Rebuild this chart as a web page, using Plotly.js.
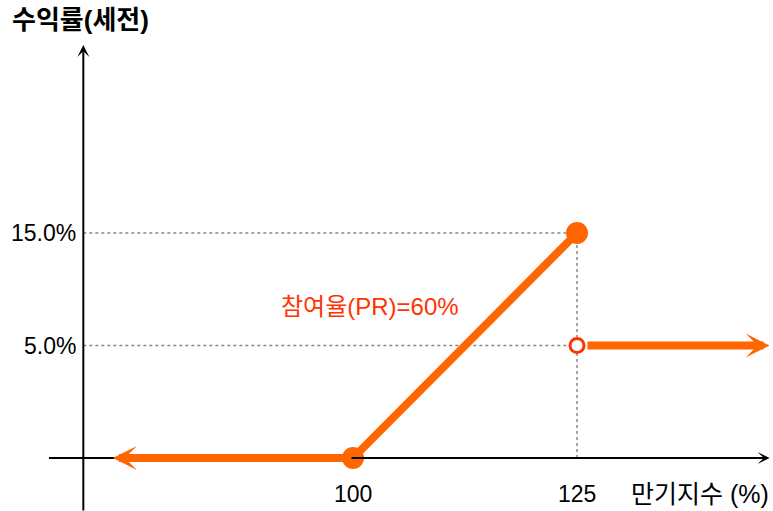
<!DOCTYPE html>
<html>
<head>
<meta charset="utf-8">
<script src="https://cdn.plot.ly/plotly-3.0.1.min.js"></script>
<style>html,body{margin:0;padding:0;background:#fff;}#chart{width:773px;height:511px;}</style>
</head>
<body>
<div id="chart"></div>
<script>
// ---- data ----
const levels = ['0%', '5.0%', '15.0%'];            // schematic return levels (y categories)
const yTickLabels = ['15.0%', '5.0%'];
const xTickVals = [100, 125];
const xTickLabels = ['100', '125'];
const rampX = [100, 125];                           // participation segment
const rampY = ['0%', '15.0%'];
const filledX = [100, 125];
const filledY = ['0%', '15.0%'];
const rebateX = [125];
const rebateY = ['5.0%'];
const leftArrowX = [100, 73.2];                     // flat payoff below 100
const rightArrowX = [126.0, 146.5];                 // rebate payoff above 125
const yTitle = '수익률(세전)';
const xTitle = '만기지수 (%)';
const prLabel = '참여율(PR)=60%';

const ORANGE = '#FF6600';
const RED = '#FF3300';
const FONT = 'Liberation Sans, Arial, Noto Sans CJK KR, sans-serif';

const traces = [
  {x: rampX, y: rampY, mode: 'lines', line: {color: ORANGE, width: 8}, hoverinfo: 'skip'},
  {x: filledX, y: filledY, mode: 'markers', marker: {color: ORANGE, size: 22}, hoverinfo: 'skip'},
  {x: rebateX, y: rebateY, mode: 'markers', marker: {color: '#fff', size: 14, line: {color: RED, width: 3}}, hoverinfo: 'skip'}
];

const dotted = {color: '#888', width: 1.5, dash: 'dot'};
const shapes = [
  {type: 'line', xref: 'x', yref: 'y', x0: 69.9, x1: 125, y0: '15.0%', y1: '15.0%', line: dotted, layer: 'below'},
  {type: 'line', xref: 'x', yref: 'y', x0: 69.9, x1: 125, y0: '5.0%', y1: '5.0%', line: dotted, layer: 'below'},
  {type: 'line', xref: 'x', yref: 'y', x0: 125, x1: 125, y0: '0%', y1: '15.0%', line: dotted, layer: 'below'}
];

function arrow(x, y, ax, ay, color, width, size) {
  return {x: x, y: y, ax: ax, ay: ay, xref: 'x', yref: 'y', axref: 'x', ayref: 'y',
    text: '', showarrow: true, arrowhead: 3, arrowsize: size, arrowwidth: width,
    arrowcolor: color, standoff: 0, startstandoff: 0};
}

const annotations = [
  // axes
  arrow(146.5, 0, 65.9, 0, '#000', 2, 1),
  arrow(69.9, 3.67, 69.9, -0.48, '#000', 2, 1),
  // payoff arrows
  arrow(leftArrowX[1], '0%', leftArrowX[0], '0%', ORANGE, 8, 0.5),
  arrow(rightArrowX[1], '5.0%', rightArrowX[0], '5.0%', ORANGE, 8, 0.5),
  // PR label
  {x: 101.9, y: 1.35, xref: 'x', yref: 'y', text: prLabel, showarrow: false,
    font: {family: FONT, size: 24, color: RED}},
  // x title
  {x: 146.6, y: '0%', yshift: -36, xref: 'x', yref: 'y', xanchor: 'right', text: xTitle, showarrow: false,
    font: {family: FONT, size: 25, color: '#000'}}
];
yTickLabels.forEach(t => annotations.push({x: 69.3, y: t, xref: 'x', yref: 'y', xanchor: 'right',
  text: t, showarrow: false, font: {family: FONT, size: 23, color: '#000'}}));
xTickVals.forEach((v, i) => annotations.push({x: v, y: '0%', yshift: -36, xref: 'x', yref: 'y',
  text: xTickLabels[i], showarrow: false, font: {family: FONT, size: 23, color: '#000'}}));

const layout = {
  width: 773, height: 511,
  margin: {l: 0, r: 0, t: 0, b: 0},
  paper_bgcolor: '#fff', plot_bgcolor: '#fff',
  showlegend: false,
  title: {text: '<b>' + yTitle + '</b>', x: 12/773, xanchor: 'left', y: 1 - 20/511, yanchor: 'middle',
    font: {family: FONT, size: 26, color: '#000'}},
  xaxis: {range: [60.6, 146.875], visible: false, fixedrange: true},
  yaxis: {type: 'category', categoryorder: 'array', categoryarray: levels,
    range: [-0.471, 4.071], visible: false, fixedrange: true},
  shapes: shapes,
  annotations: annotations
};

Plotly.newPlot('chart', traces, layout, {staticPlot: true, displayModeBar: false});
</script>
</body>
</html>
